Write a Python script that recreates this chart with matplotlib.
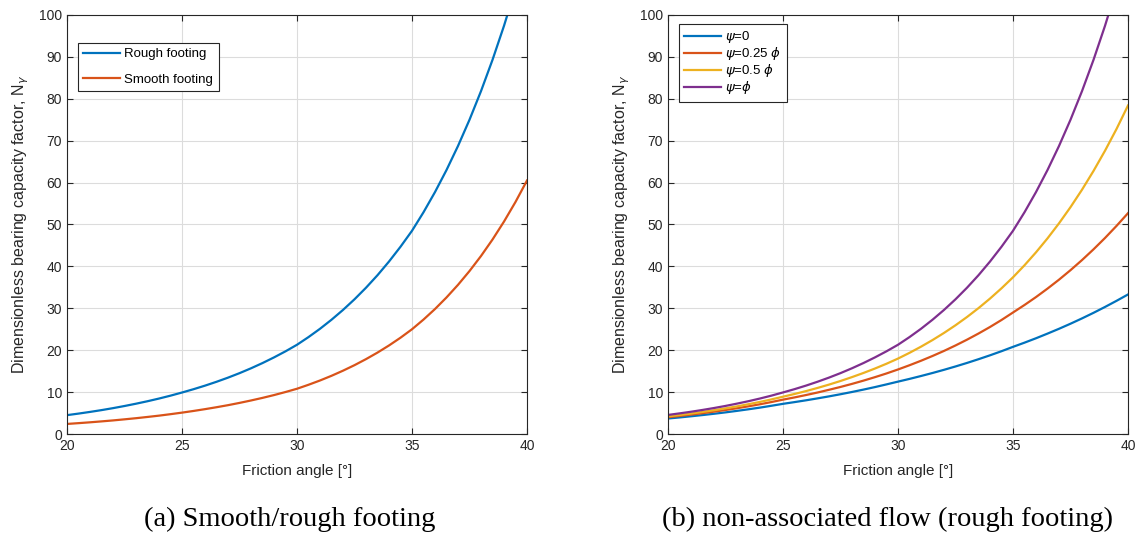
import numpy as np
import matplotlib.pyplot as plt

# ── data (every half degree) ──
phi_deg = [20.0, 20.5, 21.0, 21.5, 22.0, 22.5, 23.0, 23.5, 24.0, 24.5,
           25.0, 25.5, 26.0, 26.5, 27.0, 27.5, 28.0, 28.5, 29.0, 29.5,
           30.0, 30.5, 31.0, 31.5, 32.0, 32.5, 33.0, 33.5, 34.0, 34.5,
           35.0, 35.5, 36.0, 36.5, 37.0, 37.5, 38.0, 38.5, 39.0, 39.5, 40.0]

n_rough = [4.50, 4.87, 5.27, 5.70, 6.17, 6.68, 7.23, 7.82, 8.46, 9.15,
           9.90, 10.69, 11.54, 12.46, 13.45, 14.52, 15.68, 16.93, 18.28, 19.73,
           21.3, 23.13, 25.11, 27.27, 29.61, 32.15, 34.91, 37.90, 41.16, 44.69,
           48.5, 52.92, 57.74, 63.00, 68.74, 75.00, 81.83, 89.29, 97.42, 106.3, 116.0]
n_smooth = [2.40, 2.59, 2.79, 3.01, 3.24, 3.50, 3.77, 4.07, 4.38, 4.73,
            5.10, 5.50, 5.93, 6.39, 6.88, 7.42, 8.00, 8.62, 9.29, 10.02,
            10.8, 11.75, 12.77, 13.89, 15.11, 16.43, 17.87, 19.43, 21.13, 22.98,
            25.0, 27.31, 29.83, 32.59, 35.60, 38.89, 42.48, 46.41, 50.70, 55.38, 60.5]

n_psi_0 = [3.70, 3.95, 4.23, 4.52, 4.83, 5.16, 5.52, 5.90, 6.30, 6.74,
           7.20, 7.61, 8.04, 8.50, 8.98, 9.49, 10.03, 10.60, 11.20, 11.84,
           12.5, 13.15, 13.84, 14.56, 15.32, 16.12, 16.96, 17.85, 18.78, 19.76,
           20.8, 21.80, 22.85, 23.96, 25.11, 26.32, 27.59, 28.92, 30.32, 31.78, 33.3]
n_psi_025 = [4.00, 4.30, 4.62, 4.96, 5.33, 5.73, 6.15, 6.61, 7.10, 7.63,
             8.20, 8.73, 9.30, 9.90, 10.55, 11.23, 11.96, 12.74, 13.57, 14.45,
             15.4, 16.41, 17.48, 18.62, 19.83, 21.13, 22.51, 23.98, 25.54, 27.21,
             29.0, 30.79, 32.68, 34.70, 36.83, 39.10, 41.51, 44.07, 46.78, 49.66, 52.7]
n_psi_05 = [4.20, 4.53, 4.88, 5.26, 5.67, 6.12, 6.59, 7.11, 7.66, 8.26,
            8.90, 9.55, 10.24, 10.99, 11.79, 12.65, 13.58, 14.57, 15.63, 16.77,
            18.0, 19.37, 20.84, 22.42, 24.12, 25.95, 27.92, 30.04, 32.32, 34.77,
            37.4, 40.27, 43.36, 46.69, 50.28, 54.14, 58.30, 62.78, 67.60, 72.79, 78.4]
n_psi_1 = [4.55, 4.92, 5.31, 5.74, 6.20, 6.70, 7.25, 7.83, 8.47, 9.16,
           9.92, 10.70, 11.55, 12.47, 13.46, 14.53, 15.69, 16.94, 18.29, 19.74,
           21.3, 23.13, 25.11, 27.27, 29.61, 32.15, 34.91, 37.90, 41.16, 44.69,
           48.5, 52.92, 57.74, 63.00, 68.74, 75.00, 81.83, 89.29, 97.42, 106.3, 116.0]

blue, red, yellow, purple = "#0072BD", "#D95319", "#EDB120", "#7E2F8E"
axcol = "#262626"

plt.rcParams["font.family"] = ["Liberation Sans", "DejaVu Sans"]
plt.rcParams["mathtext.fontset"] = "dejavusans"

fig = plt.figure(figsize=(11.39, 5.41), dpi=100)
ax_a = fig.add_axes([67 / 1139, 1 - 434 / 541, 460 / 1139, 419 / 541])
ax_b = fig.add_axes([668 / 1139, 1 - 434 / 541, 460 / 1139, 419 / 541])


def style(ax):
    ax.set_xlim(20, 40)
    ax.set_ylim(0, 100)
    ax.set_xticks([20, 25, 30, 35, 40])
    ax.set_yticks(range(0, 101, 10))
    ax.grid(True, color="#dcdcdc", linewidth=0.8)
    ax.set_axisbelow(True)
    ax.tick_params(direction="in", top=True, right=True, length=4,
                   labelsize=10, colors=axcol, width=0.8)
    for s in ax.spines.values():
        s.set_color(axcol)
        s.set_linewidth(0.8)
    ax.set_xlabel("Friction angle [°]", fontsize=11, color=axcol, labelpad=8)
    ax.set_ylabel(r"Dimensionless bearing capacity factor, N$_\gamma$",
                  fontsize=11.5, color=axcol, labelpad=6)


def legend(ax, anchor, spacing):
    leg = ax.legend(loc="upper left", bbox_to_anchor=anchor, borderaxespad=0,
                    fontsize=9.5, fancybox=False, edgecolor=axcol,
                    framealpha=1, handlelength=2.8, handletextpad=0.35,
                    labelspacing=spacing, borderpad=0.4)
    leg.get_frame().set_linewidth(0.8)


ax_a.plot(phi_deg, n_rough, color=blue, lw=1.6, label="Rough footing")
ax_a.plot(phi_deg, n_smooth, color=red, lw=1.6, label="Smooth footing")
style(ax_a)
legend(ax_a, (0.023, 0.934), 1.0)

ax_b.plot(phi_deg, n_psi_0, color=blue, lw=1.6, label=r"$\psi$=0")
ax_b.plot(phi_deg, n_psi_025, color=red, lw=1.6, label=r"$\psi$=0.25 $\phi$")
ax_b.plot(phi_deg, n_psi_05, color=yellow, lw=1.6, label=r"$\psi$=0.5 $\phi$")
ax_b.plot(phi_deg, n_psi_1, color=purple, lw=1.6, label=r"$\psi$=$\phi$")
style(ax_b)
legend(ax_b, (0.023, 0.9785), 0.0)

fig.text(290 / 1139, 1 - 519 / 541, "(a) Smooth/rough footing",
         family="Liberation Serif", fontsize=20.5, ha="center", va="center")
fig.text(887 / 1139, 1 - 519 / 541, "(b) non-associated flow (rough footing)",
         family="Liberation Serif", fontsize=20.5, ha="center", va="center")

fig.savefig("out.png", dpi=100)
